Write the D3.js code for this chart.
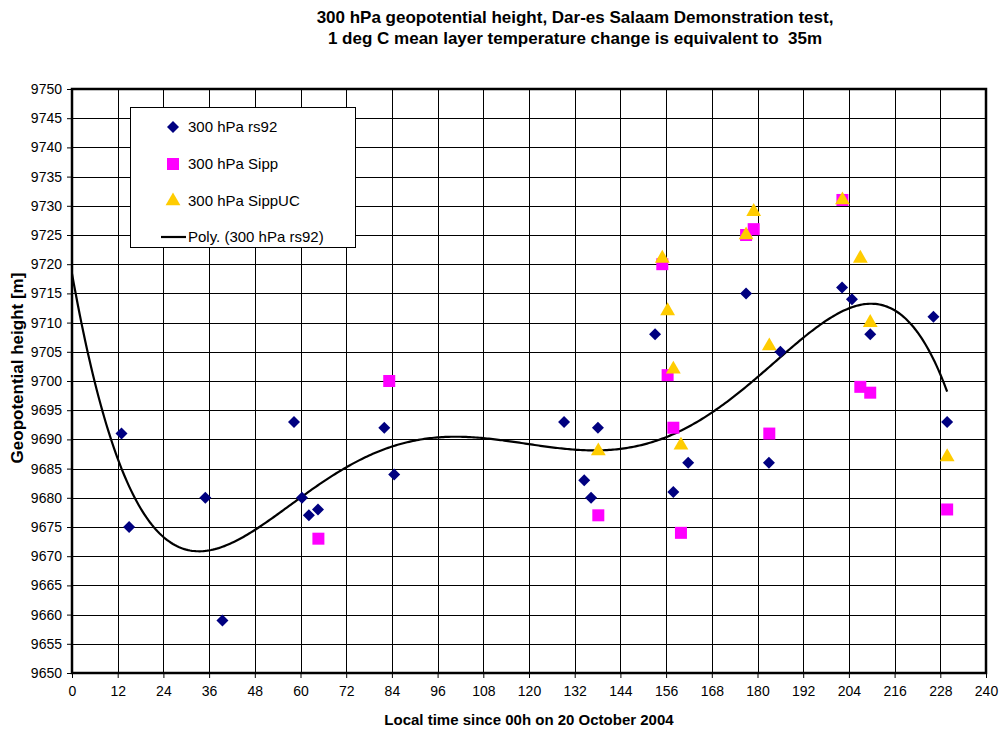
<!DOCTYPE html>
<html>
<head>
<meta charset="utf-8">
<script src="https://cdn.jsdelivr.net/npm/d3@7"></script>
<style>
  body { margin: 0; background: #fff; }
  svg { font-family: "Liberation Sans", Arial, sans-serif; }
</style>
</head>
<body>
<div id="chart"></div>
<script>
// rs92 soundings (diamonds)
const rs92X = [13, 15, 35, 39.5, 58.3, 60.4, 62.2, 64.6, 82, 84.6, 129.2, 134.5, 136.3, 138.1, 153.1, 157.9, 161.8, 177, 183, 186, 202.2, 204.8, 209.6, 226.2, 229.8];
const rs92Y = [9691, 9675, 9680, 9659, 9693, 9680, 9677, 9678, 9692, 9684, 9693, 9683, 9680, 9692, 9708, 9681, 9686, 9715, 9686, 9705, 9716, 9714, 9708, 9711, 9693];
// Sipp (squares)
const sippX = [64.7, 83.3, 138.2, 155, 156.4, 157.9, 159.9, 177, 179, 183.1, 202.3, 207, 209.6, 229.8];
const sippY = [9673, 9700, 9677, 9720, 9701, 9692, 9674, 9725, 9726, 9691, 9731, 9699, 9698, 9678];
// SippUC (triangles)
const sippUcX = [138.2, 155, 156.4, 157.9, 159.9, 177, 179, 183.1, 202.3, 207, 209.6, 229.8];
const sippUcY = [9688, 9721, 9712, 9702, 9689, 9725, 9729, 9706, 9731, 9721, 9710, 9687];

const xTicks = d3.range(0, 241, 12);
const yTicks = d3.range(9650, 9751, 5);
const legendLabels = ["300 hPa rs92", "300 hPa Sipp", "300 hPa SippUC", "Poly. (300 hPa rs92)"];
const titleLines = ["300 hPa geopotential height, Dar-es Salaam Demonstration test,",
                    "1 deg C mean layer temperature change is equivalent to  35m"];

const width = 1000, height = 729;
const plotL = 72, plotR = 986, plotT = 89, plotB = 673;

let svg = d3.select("#chart").append("svg")
    .attr("width", width)
    .attr("height", height);

let x = d3.scaleLinear().domain([0, 240]).range([plotL, plotR]);
let y = d3.scaleLinear().domain([9650, 9750]).range([plotB, plotT]);

// grid
svg.append("g")
    .selectAll("line")
    .data(xTicks)
    .enter()
    .append("line")
    .attr("x1", d => Math.round(x(d)) + 0.5)
    .attr("x2", d => Math.round(x(d)) + 0.5)
    .attr("y1", plotT)
    .attr("y2", plotB)
    .attr("stroke", "#000")
    .attr("stroke-width", 1);

svg.append("g")
    .selectAll("line")
    .data(yTicks)
    .enter()
    .append("line")
    .attr("x1", plotL)
    .attr("x2", plotR)
    .attr("y1", d => Math.round(y(d)) + 0.5)
    .attr("y2", d => Math.round(y(d)) + 0.5)
    .attr("stroke", "#000")
    .attr("stroke-width", 1);

// axes
let yAxis = d3.axisLeft(y).tickValues(yTicks).tickSize(5).tickPadding(5).tickFormat(d3.format("d"));
let xAxis = d3.axisBottom(x).tickValues(xTicks).tickSize(5).tickPadding(8).tickFormat(d3.format("d"));

let yG = svg.append("g").attr("transform", "translate(" + plotL + ",0)").call(yAxis);
let xG = svg.append("g").attr("transform", "translate(0," + plotB + ")").call(xAxis);
[yG, xG].forEach(g => {
    g.select(".domain").remove();
    g.selectAll("text").attr("font-size", 14).attr("fill", "#000").attr("font-family", "Liberation Sans, Arial, sans-serif");
    g.selectAll("line").attr("stroke", "#000");
});

// plot frame
svg.append("rect")
    .attr("x", plotL)
    .attr("y", plotT)
    .attr("width", plotR - plotL)
    .attr("height", plotB - plotT)
    .attr("fill", "none")
    .attr("stroke", "#000")
    .attr("stroke-width", 2.5);

// polynomial trendline (order 5) fitted to rs92
function polyfit(xs, ys, deg) {
    const n = deg + 1;
    let A = [], b = [];
    for (let i = 0; i < n; i++) { A.push(new Array(n).fill(0)); b.push(0); }
    xs.forEach((xv, k) => {
        const t = xv / 240;
        for (let i = 0; i < n; i++) {
            b[i] += ys[k] * Math.pow(t, i);
            for (let j = 0; j < n; j++) A[i][j] += Math.pow(t, i + j);
        }
    });
    for (let c = 0; c < n; c++) {
        let p = c;
        for (let r = c + 1; r < n; r++) if (Math.abs(A[r][c]) > Math.abs(A[p][c])) p = r;
        [A[c], A[p]] = [A[p], A[c]];
        [b[c], b[p]] = [b[p], b[c]];
        for (let r = c + 1; r < n; r++) {
            const f = A[r][c] / A[c][c];
            for (let j = c; j < n; j++) A[r][j] -= f * A[c][j];
            b[r] -= f * b[c];
        }
    }
    let coef = new Array(n).fill(0);
    for (let i = n - 1; i >= 0; i--) {
        let s = b[i];
        for (let j = i + 1; j < n; j++) s -= A[i][j] * coef[j];
        coef[i] = s / A[i][i];
    }
    return function(xv) {
        const t = xv / 240;
        let s = 0;
        for (let i = n - 1; i >= 0; i--) s = s * t + coef[i];
        return s;
    };
}

let trend = polyfit(rs92X, rs92Y, 5);
let trendPts = d3.range(0, 229.8, 0.5).concat([229.8]).map(d => [d, trend(d)]);

svg.append("path")
    .datum(trendPts)
    .attr("fill", "none")
    .attr("stroke", "#000")
    .attr("stroke-width", 2.2)
    .attr("d", d3.line().x(d => x(d[0])).y(d => y(d[1])));

// markers
const diamond = d3.symbol().type(d3.symbolSquare).size(72)();
const square = d3.symbol().type(d3.symbolSquare).size(144)();
const triangle = d3.symbol().type(d3.symbolTriangle).size(95)();

svg.append("g")
    .selectAll("path")
    .data(d3.zip(rs92X, rs92Y))
    .enter()
    .append("path")
    .attr("d", diamond)
    .attr("transform", d => "translate(" + x(d[0]) + "," + y(d[1]) + ") rotate(45)")
    .attr("fill", "#000080");

svg.append("g")
    .selectAll("path")
    .data(d3.zip(sippX, sippY))
    .enter()
    .append("path")
    .attr("d", square)
    .attr("transform", d => "translate(" + x(d[0]) + "," + y(d[1]) + ")")
    .attr("fill", "#ff00ff");

svg.append("g")
    .selectAll("path")
    .data(d3.zip(sippUcX, sippUcY))
    .enter()
    .append("path")
    .attr("d", triangle)
    .attr("transform", d => "translate(" + x(d[0]) + "," + y(d[1]) + ")")
    .attr("fill", "#ffcc00");

// legend
let legend = svg.append("g").attr("transform", "translate(130,107)");
legend.append("rect")
    .attr("x", 0.5).attr("y", 0.5)
    .attr("width", 225).attr("height", 140)
    .attr("fill", "#fff")
    .attr("stroke", "#000");

const rowY = [20, 57, 94, 130];
legend.append("path").attr("d", diamond).attr("transform", "translate(43," + rowY[0] + ") rotate(45)").attr("fill", "#000080");
legend.append("path").attr("d", square).attr("transform", "translate(43," + rowY[1] + ")").attr("fill", "#ff00ff");
legend.append("path").attr("d", triangle).attr("transform", "translate(43," + rowY[2] + ")").attr("fill", "#ffcc00");
legend.append("line").attr("x1", 31).attr("x2", 56).attr("y1", rowY[3]).attr("y2", rowY[3]).attr("stroke", "#000").attr("stroke-width", 2.2);

legend.selectAll("text")
    .data(legendLabels)
    .enter()
    .append("text")
    .attr("x", 58)
    .attr("y", (d, i) => rowY[i] + 5)
    .attr("font-size", 15)
    .text(d => d);

// titles
svg.append("g")
    .selectAll("text")
    .data(titleLines)
    .enter()
    .append("text")
    .attr("x", 575)
    .attr("y", (d, i) => 23 + i * 21)
    .attr("text-anchor", "middle")
    .attr("font-size", 17)
    .attr("font-weight", "bold")
    .style("white-space", "pre")
    .text(d => d);

svg.append("text")
    .attr("x", 529)
    .attr("y", 725)
    .attr("text-anchor", "middle")
    .attr("font-size", 15)
    .attr("font-weight", "bold")
    .text("Local time since 00h on 20 October 2004");

svg.append("text")
    .attr("transform", "translate(23,368) rotate(-90)")
    .attr("text-anchor", "middle")
    .attr("font-size", 17)
    .attr("font-weight", "bold")
    .text("Geopotential height [m]");
</script>
</body>
</html>
